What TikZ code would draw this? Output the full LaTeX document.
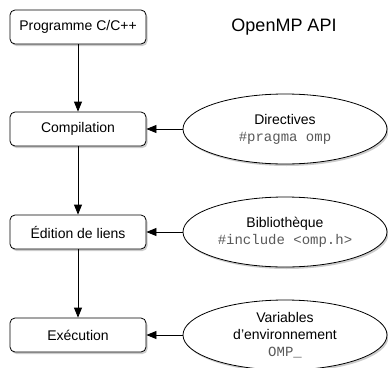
\documentclass[tikz,border=0pt]{standalone}
\usepackage{fontspec}
\setmainfont{Liberation Sans}
\setmonofont{Liberation Mono}
\usetikzlibrary{arrows.meta,shapes.geometric,shadows}

\begin{document}
\begin{tikzpicture}[x=1pt,y=-1pt,
  ombre/.style={drop shadow={shadow xshift=1.5pt, shadow yshift=-2pt, opacity=0.4}},
  etape/.style={draw, line width=0.8pt, rounded corners=5pt, fill=white, ombre, minimum width=136pt, minimum height=34pt, inner sep=0pt, font=\fontsize{14}{16}\selectfont},
  outil/.style={draw, line width=0.8pt, ellipse, fill=white, ombre, minimum width=204pt, minimum height=70pt, inner sep=0pt, align=center, font=\fontsize{14}{17}\selectfont},
  fleche/.style={-{Triangle[length=10pt,width=8pt]}, line width=0.8pt}]
\useasboundingbox (0,0) rectangle (388,367);
\node [etape] (prog) at (78,27) {Programme C/C++};
\node [etape] (comp) at (78,129) {Compilation};
\node [etape] (edit) at (78,232) {Édition de liens};
\node [etape] (exec) at (78,335) {Exécution};
\node (titre) at (284,27) {\fontsize{18}{20}\selectfont OpenMP API};
\node [outil] (dir) at (285,129) {Directives\\{\ttfamily\color{black!65}\#pragma omp}};
\node [outil] (bib) at (285,232) {Bibliothèque\\{\ttfamily\color{black!65}\#include <omp.h>}};
\node [outil] (var) at (285,335) {Variables\\d’environnement\\{\ttfamily\color{black!65}OMP\_}};
\draw [fleche] (prog) -- (comp);
\draw [fleche] (comp) -- (edit);
\draw [fleche] (edit) -- (exec);
\draw [fleche] (dir) -- (comp);
\draw [fleche] (bib) -- (edit);
\draw [fleche] (var) -- (exec);
\end{tikzpicture}
\end{document}
